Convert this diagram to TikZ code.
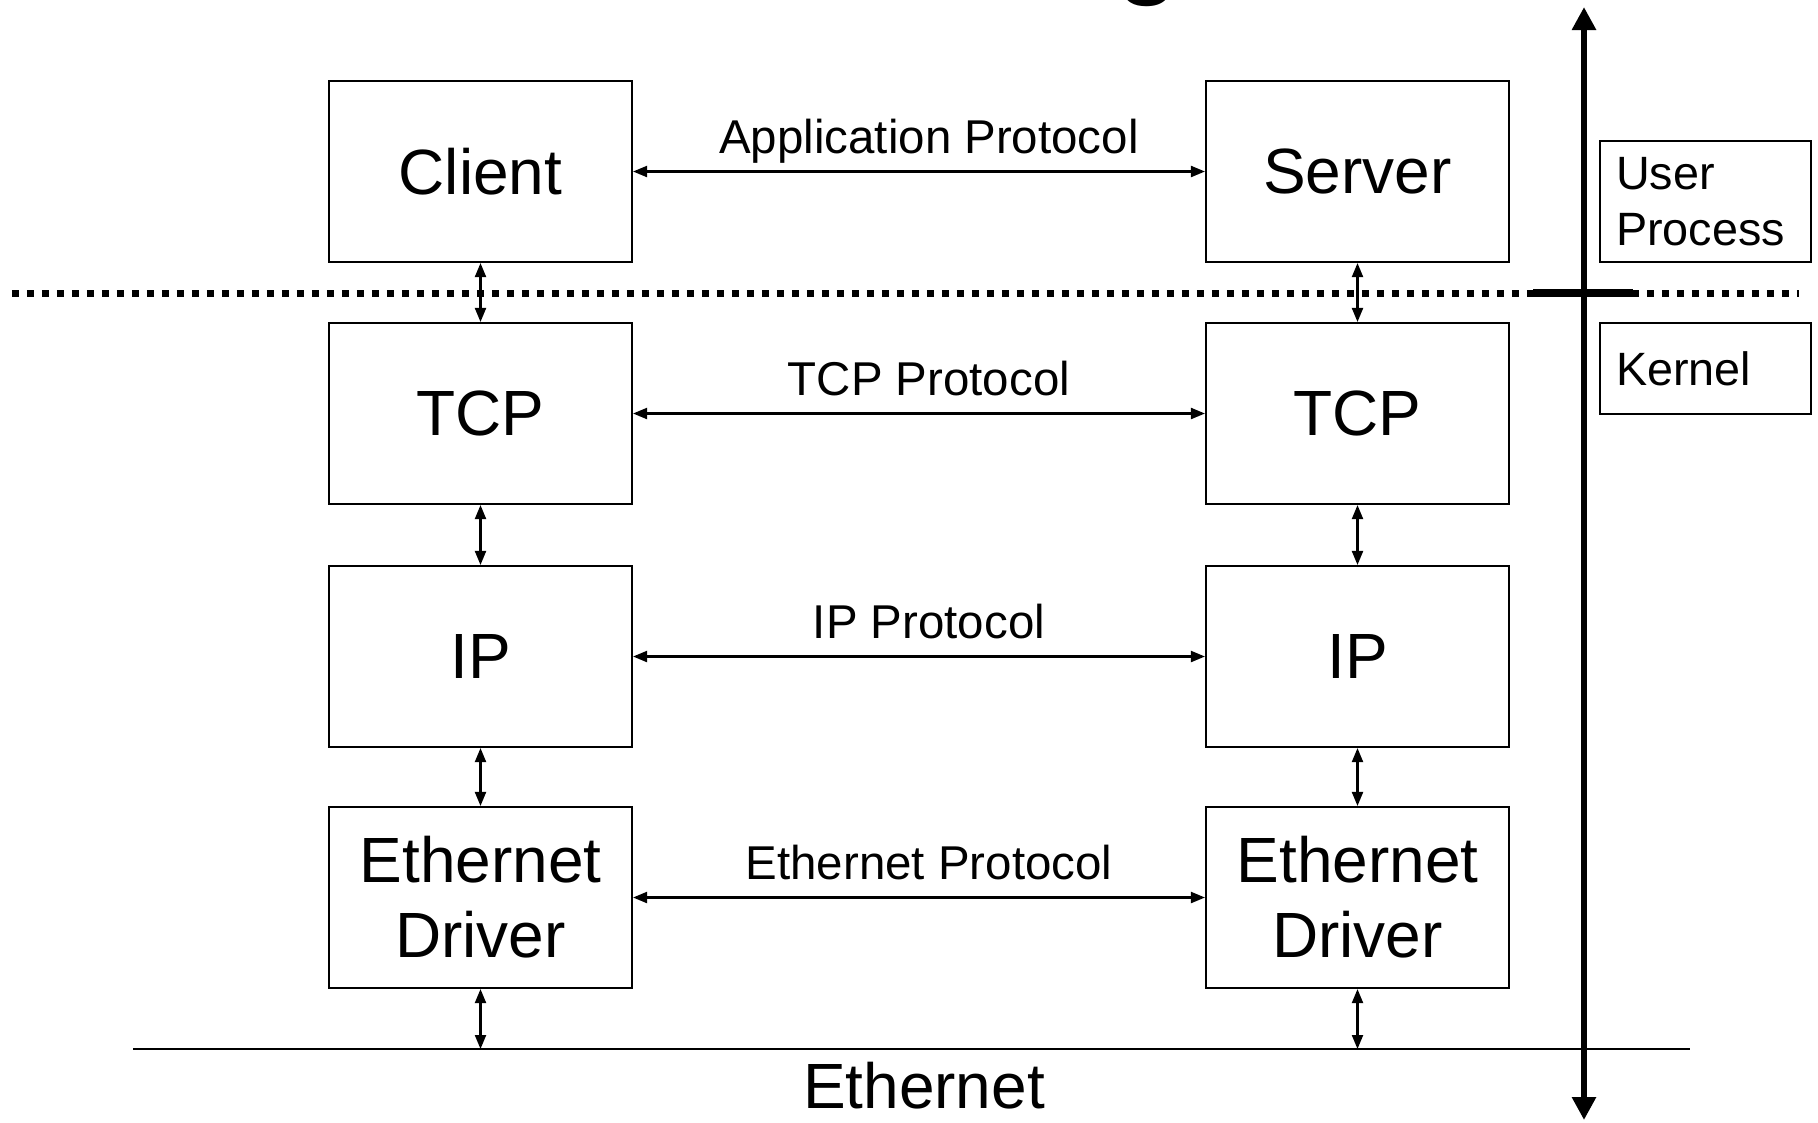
\documentclass[tikz,border=0pt]{standalone}
\usepackage{fontspec}
\setmainfont{Liberation Sans}
\usetikzlibrary{arrows.meta}

\begin{document}
\begin{tikzpicture}[
  layer/.style={draw, line width=0.6pt, minimum width=3.03cm, minimum height=1.81cm,
    align=center, font=\fontsize{18.2}{21.3}\selectfont},
  side/.style={draw, line width=0.6pt, text width=1.79cm, inner xsep=0.16cm,
    align=left, font=\fontsize{13.3}{16}\selectfont},
  link/.style={line width=0.6pt, {Triangle[length=0.14cm,width=0.11cm]}-{Triangle[length=0.14cm,width=0.11cm]}},
  lbl/.style={font=\fontsize{13.5}{16}\selectfont, anchor=base, yshift=0.18cm, xshift=0.1cm}
]
\useasboundingbox (0,0) rectangle (18.18,-11.22);

\node[font=\bfseries\fontsize{28.5}{30}\selectfont, anchor=base, inner sep=0] (ttl) at (11.48,0.15) {g};

\node[layer] (cli) at (4.805,-1.715) {Client};
\node[layer] (srv) at (13.575,-1.715) {Server};
\node[layer] (tcpl) at (4.805,-4.135) {TCP};
\node[layer] (tcpr) at (13.575,-4.135) {TCP};
\node[layer] (ipl) at (4.805,-6.565) {IP};
\node[layer] (ipr) at (13.575,-6.565) {IP};
\node[layer] (ethl) at (4.805,-8.975) {Ethernet\\Driver};
\node[layer] (ethr) at (13.575,-8.975) {Ethernet\\Driver};

\node[side, minimum height=1.21cm] (user) at (17.055,-2.015) {User\\Process};
\node[side, minimum height=0.91cm] (kern) at (17.055,-3.685) {Kernel};

\draw[link] (cli) -- node[lbl]{Application Protocol} (srv);
\draw[link] (tcpl) -- node[lbl]{TCP Protocol} (tcpr);
\draw[link] (ipl) -- node[lbl]{IP Protocol} (ipr);
\draw[link] (ethl) -- node[lbl]{Ethernet Protocol} (ethr);

\draw[link] (cli) -- (tcpl);
\draw[link] (tcpl) -- (ipl);
\draw[link] (ipl) -- (ethl);
\draw[link] (srv) -- (tcpr);
\draw[link] (tcpr) -- (ipr);
\draw[link] (ipr) -- (ethr);

\coordinate (busw) at (1.33,-10.49);
\coordinate (buse) at (16.90,-10.49);
\coordinate (busl) at (4.805,-10.49);
\coordinate (busr) at (13.575,-10.49);
\draw[line width=0.6pt] (busw) -- (buse);
\draw[link] (ethl) -- (busl);
\draw[link] (ethr) -- (busr);
\node[font=\fontsize{18.2}{21.3}\selectfont, anchor=base] (eth) at (9.24,-11.08) {Ethernet};

\draw[line width=0.07cm, dash pattern=on 0.075cm off 0.075cm] (0.12,-2.93) -- (17.99,-2.93);
\draw[line width=0.08cm] (15.33,-2.93) -- (16.33,-2.93);

\coordinate (top) at (15.84,-0.07);
\coordinate (bot) at (15.84,-11.20);
\draw[line width=0.06cm, {Triangle[length=0.23cm,width=0.23cm]}-{Triangle[length=0.23cm,width=0.23cm]}] (bot) -- (top);
\end{tikzpicture}
\end{document}
